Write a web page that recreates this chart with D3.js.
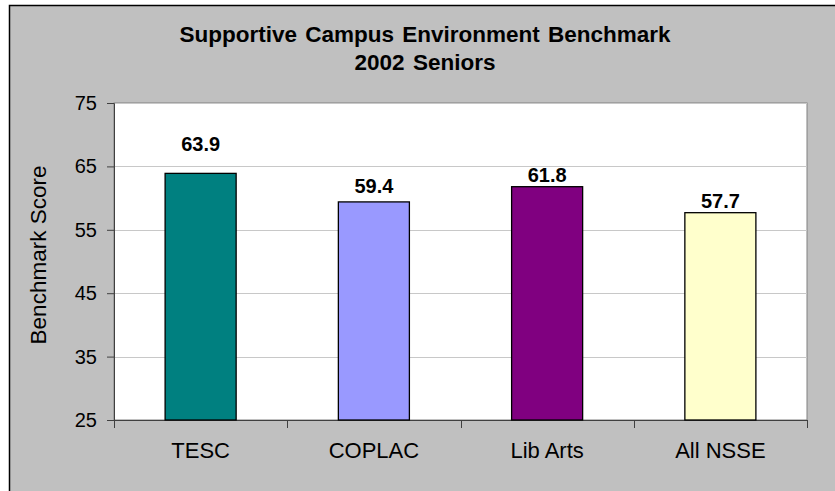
<!DOCTYPE html>
<html>
<head>
<meta charset="utf-8">
<script src="https://cdn.jsdelivr.net/npm/d3@7"></script>
<style>
  html, body { margin: 0; padding: 0; background: #fff; }
  svg { display: block; font-family: "Liberation Sans", Arial, sans-serif; }
</style>
</head>
<body>
<svg id="chart" width="835" height="491"></svg>
<script>
const categories = ['TESC', 'COPLAC', 'Lib Arts', 'All NSSE'];
const scores = [63.9, 59.4, 61.8, 57.7];
const yTicks = [25, 35, 45, 55, 65, 75];
const barColors = ['#008080', '#9999ff', '#800080', '#ffffcc'];
const titleLines = ['Supportive Campus Environment Benchmark', '2002 Seniors'];

const svg = d3.select('#chart');
const margin = { top: 103, right: 28, bottom: 71, left: 114 };
const width = 835;
const height = 491;

// chart area (border on left/top only, runs past the window)
svg.append('rect')
  .attr('x', 9.5).attr('y', 5.5)
  .attr('width', 840).attr('height', 500)
  .attr('fill', '#c0c0c0')
  .attr('stroke', '#000').attr('stroke-width', 1.5);

const x = d3.scaleBand()
  .domain(categories)
  .range([margin.left, width - margin.right])
  .paddingInner(0.59)
  .paddingOuter(0.295);

const y = d3.scaleLinear()
  .domain([25, 75])
  .range([height - margin.bottom, margin.top]);

// plot area
svg.append('rect')
  .attr('x', margin.left).attr('y', margin.top)
  .attr('width', width - margin.right - margin.left)
  .attr('height', y(25) - margin.top)
  .attr('fill', '#fff')
  .attr('stroke', '#808080');

svg.append('g')
  .selectAll('line')
  .data(yTicks.slice(1))
  .join('line')
  .attr('x1', margin.left).attr('x2', width - margin.right)
  .attr('y1', (d) => Math.round(y(d)) + 0.5).attr('y2', (d) => Math.round(y(d)) + 0.5)
  .attr('stroke', '#c8c8c8');

// y axis
const yAxis = svg.append('g')
  .attr('transform', `translate(${margin.left},0)`)
  .call(d3.axisLeft(y).tickValues(yTicks).tickSize(7).tickPadding(10));
yAxis.select('.domain').attr('stroke', '#404040');
yAxis.selectAll('.tick line').attr('stroke', '#404040');
yAxis.selectAll('text').attr('font-size', 20).attr('fill', '#000')
  .attr('font-family', '"Liberation Sans", Arial, sans-serif');

// x axis with ticks between categories
const xAxisY = y(25);
const step = x.step();
const bounds = d3.range(categories.length + 1).map((i) => margin.left + i * step);
svg.append('line')
  .attr('x1', margin.left - 7).attr('x2', width - margin.right)
  .attr('y1', xAxisY + 0.5).attr('y2', xAxisY + 0.5)
  .attr('stroke', '#404040');
svg.append('g')
  .selectAll('line')
  .data(bounds)
  .join('line')
  .attr('x1', (d) => Math.round(d) + 0.5).attr('x2', (d) => Math.round(d) + 0.5)
  .attr('y1', xAxisY).attr('y2', xAxisY + 8)
  .attr('stroke', '#404040');
svg.append('g')
  .selectAll('text')
  .data(categories)
  .join('text')
  .attr('x', (d) => x(d) + x.bandwidth() / 2)
  .attr('y', xAxisY + 38)
  .attr('text-anchor', 'middle')
  .attr('font-size', 22)
  .text((d) => d);

// bars
svg.append('g')
  .selectAll('rect')
  .data(categories)
  .join('rect')
  .attr('x', (d) => x(d))
  .attr('y', (d, i) => y(scores[i]))
  .attr('width', x.bandwidth())
  .attr('height', (d, i) => y(25) - y(scores[i]))
  .attr('fill', (d, i) => barColors[i])
  .attr('stroke', '#000')
  .attr('stroke-width', 1.3);

// value labels (some sit higher, as in the original)
const labelLift = { TESC: 17, COPLAC: 4 };
svg.append('g')
  .selectAll('text')
  .data(categories)
  .join('text')
  .attr('x', (d) => x(d) + x.bandwidth() / 2)
  .attr('y', (d, i) => y(scores[i]) - 5 - (labelLift[d] || 0))
  .attr('text-anchor', 'middle')
  .attr('font-size', 20)
  .attr('font-weight', 'bold')
  .text((d, i) => scores[i].toFixed(1));

// axis title
svg.append('text')
  .attr('transform', `translate(46,255) rotate(-90)`)
  .attr('text-anchor', 'middle')
  .attr('font-size', 22.5)
  .text('Benchmark Score');

// title
svg.append('g')
  .selectAll('text')
  .data(titleLines)
  .join('text')
  .attr('x', 425)
  .attr('y', (d, i) => 42 + i * 28)
  .attr('text-anchor', 'middle')
  .attr('font-size', 22.5)
  .attr('font-weight', 'bold')
  .attr('word-spacing', 2)
  .text((d) => d);
</script>
</body>
</html>
